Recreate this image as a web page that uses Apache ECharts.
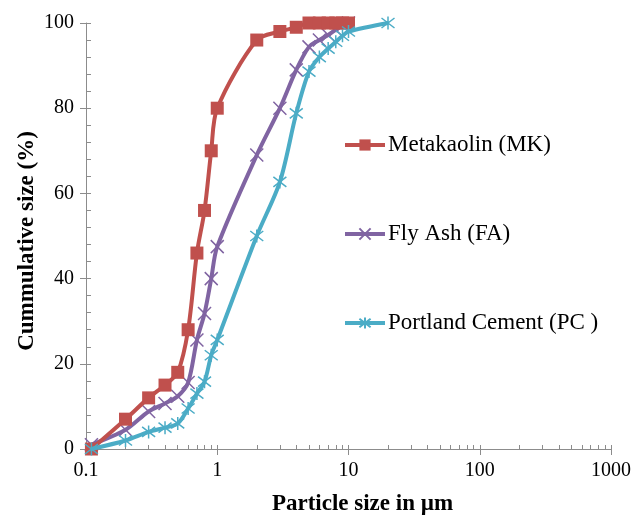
<!DOCTYPE html>
<html>
<head>
<meta charset="utf-8">
<script src="https://cdn.jsdelivr.net/npm/echarts@6/dist/echarts.min.js"></script>
<style>
  html, body { margin: 0; padding: 0; background: #fff; }
  #chart { width: 644px; height: 516px; }
</style>
</head>
<body>
<div id="chart"></div>
<script>
// Particle size distributions (cumulative %) of the three binders
const sizesMK = [0.11, 0.2, 0.3, 0.4, 0.5, 0.6, 0.7, 0.8, 0.9, 1, 2, 3, 4, 5, 6, 7, 8, 9, 10];
const valuesMK = [0, 7, 12, 15, 18, 28, 46, 56, 70, 80, 96, 98, 99, 100, 100, 100, 100, 100, 100];

const sizesFA = [0.11, 0.2, 0.3, 0.4, 0.5, 0.6, 0.7, 0.8, 0.9, 1, 2, 3, 4, 5, 6, 7, 8, 9, 10];
const valuesFA = [1, 4.5, 8.8, 10.7, 12.4, 15.6, 25.6, 31.8, 40, 47.5, 69, 80, 89, 94.4, 96, 97.2, 98.4, 99.4, 100];

const sizesPC = [0.11, 0.2, 0.3, 0.4, 0.5, 0.6, 0.7, 0.8, 0.9, 1, 2, 3, 4, 5, 6, 7, 8, 9, 10, 20];
const valuesPC = [0, 2, 4, 5, 6, 9.5, 13, 15.8, 22, 25.6, 50, 62.7, 78.8, 88.6, 92, 94, 95.6, 97, 98, 100];

const seriesNames = ['Metakaolin (MK)', 'Fly Ash (FA)', 'Portland Cement (PC )'];
const seriesColors = ['#C0504D', '#8064A2', '#4BACC6'];

// Tick positions: decades on the log axis, plus the 2..9 subdivisions
const xMajorTicks = [0.1, 1, 10, 100, 1000];
const xAllTicks = [];
xMajorTicks.slice(0, -1).forEach(d => { for (let k = 1; k <= 9; k++) xAllTicks.push(+(d * k).toPrecision(3)); });
xAllTicks.push(1000);
const yMinorTicks = [];
for (let v = 0; v <= 100; v += 4) yMinorTicks.push(v);

const serif = '"Liberation Serif", "Times New Roman", serif';
const axisGrey = '#8c8c8c';

const crossPath = 'path://M0,0L10,10M10,0L0,10';
const starPath = 'path://M0,0L10,10M10,0L0,10M5,-1.5L5,11.5';

function pairs(xs, ys) { return xs.map((x, i) => [x, ys[i]]); }

const chart = echarts.init(document.getElementById('chart'), null, { renderer: 'canvas' });

chart.setOption({
  animation: false,
  backgroundColor: '#fff',
  grid: { left: 86, right: 33, top: 23, bottom: 67, containLabel: false, outerBoundsMode: 'none' },
  legend: {
    orient: 'vertical',
    left: 338,
    top: 128,
    itemGap: 65,
    itemWidth: 40,
    itemHeight: 14,
    lineStyle: { width: 4 },
    textStyle: { fontFamily: serif, fontSize: 23, lineHeight: 24, color: '#000', padding: [0, 0, 0, -2] },
    data: seriesNames
  },
  xAxis: [
    {
      type: 'log', logBase: 10, min: 0.1, max: 1000,
      name: 'Particle size in µm',
      nameLocation: 'middle', nameGap: 44, nameMoveOverlap: false,
      nameTextStyle: { fontFamily: serif, fontSize: 23, fontWeight: 'bold', color: '#000', padding: [0, 0, 0, 28] },
      axisLine: { show: true, lineStyle: { color: axisGrey, width: 1 } },
      axisTick: { show: true, inside: false, length: 6, lineStyle: { color: axisGrey } },
      axisLabel: {
        margin: 12, fontFamily: serif, fontSize: 20, color: '#000',
        formatter: v => String(v)
      },
      splitLine: { show: false }
    },
    {
      type: 'log', logBase: 10, min: 0.1, max: 1000, position: 'bottom',
      axisLine: { show: false },
      axisTick: { show: true, inside: true, length: 4, customValues: xAllTicks, lineStyle: { color: axisGrey } },
      axisLabel: { show: false },
      splitLine: { show: false }
    }
  ],
  yAxis: [
    {
      type: 'value', min: 0, max: 100, interval: 20,
      name: 'Cummulative size (%)',
      nameLocation: 'middle', nameGap: 47, nameRotate: 90, nameMoveOverlap: false,
      nameTextStyle: { fontFamily: serif, fontSize: 23, fontWeight: 'bold', color: '#000', padding: [0, 10, 0, 0] },
      axisLine: { show: true, lineStyle: { color: axisGrey, width: 1 } },
      axisTick: { show: true, inside: false, length: 6, lineStyle: { color: axisGrey } },
      axisLabel: { margin: 12, fontFamily: serif, fontSize: 20, color: '#000' },
      splitLine: { show: false }
    },
    {
      type: 'value', min: 0, max: 100, position: 'left',
      axisLine: { show: false },
      axisTick: { show: true, inside: true, length: 5, customValues: yMinorTicks, lineStyle: { color: axisGrey } },
      axisLabel: { show: false },
      splitLine: { show: false }
    }
  ],
  series: [
    {
      name: seriesNames[0], type: 'line', smooth: 0.3,
      data: pairs(sizesMK, valuesMK),
      symbol: 'rect', symbolSize: 13,
      lineStyle: { color: seriesColors[0], width: 4 },
      itemStyle: { color: seriesColors[0] },
      z: 4
    },
    {
      name: seriesNames[1], type: 'line', smooth: 0.3,
      data: pairs(sizesFA, valuesFA),
      symbol: crossPath, symbolSize: 13,
      lineStyle: { color: seriesColors[1], width: 4 },
      itemStyle: { color: 'rgba(0,0,0,0)', borderColor: seriesColors[1], borderWidth: 1.5 },
      z: 3
    },
    {
      name: seriesNames[2], type: 'line', smooth: 0.3,
      data: pairs(sizesPC, valuesPC),
      symbol: starPath, symbolSize: 13,
      lineStyle: { color: seriesColors[2], width: 4 },
      itemStyle: { color: 'rgba(0,0,0,0)', borderColor: seriesColors[2], borderWidth: 1.5 },
      z: 5
    }
  ]
});
</script>
</body>
</html>
